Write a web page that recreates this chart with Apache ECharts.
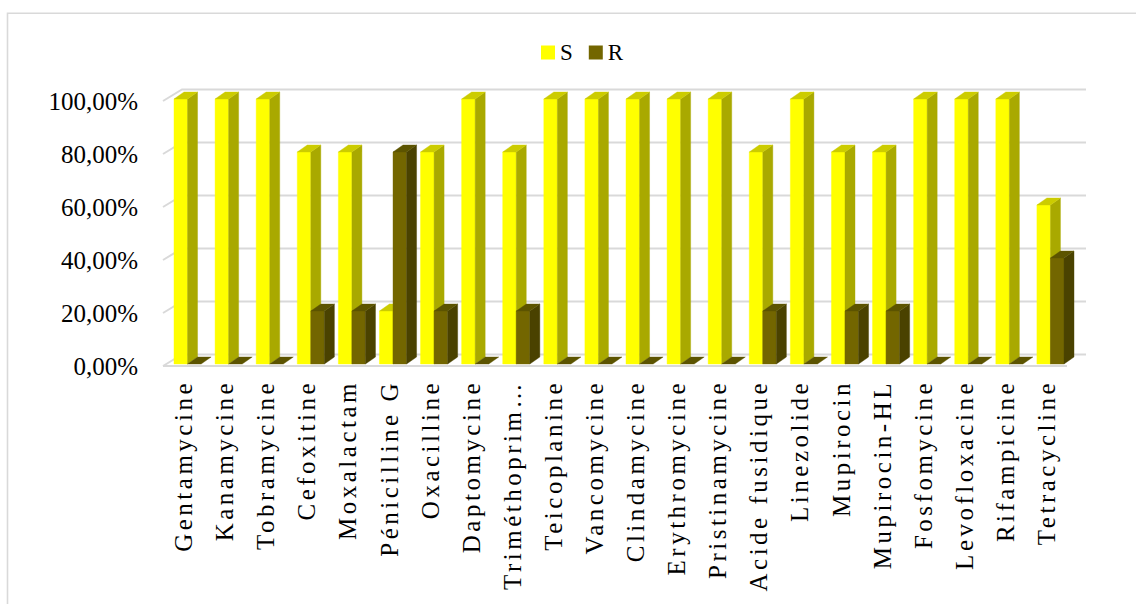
<!DOCTYPE html>
<html>
<head>
<meta charset="utf-8">
<script src="https://cdn.jsdelivr.net/npm/echarts@6/dist/echarts.min.js"></script>
<style>
  html, body { margin: 0; padding: 0; background: #ffffff; }
  #chart { width: 1136px; height: 604px; }
</style>
</head>
<body>
<div id="chart"></div>
<script>
// Antibiotic susceptibility profile (share of isolates S / R)
const categories = [
  'Gentamycine', 'Kanamycine', 'Tobramycine', 'Cefoxitine', 'Moxalactam',
  'Pénicilline G', 'Oxacilline', 'Daptomycine', 'Triméthoprim…', 'Teicoplanine',
  'Vancomycine', 'Clindamycine', 'Erythromycine', 'Pristinamycine', 'Acide fusidique',
  'Linezolide', 'Mupirocin', 'Mupirocin-HL', 'Fosfomycine', 'Levofloxacine',
  'Rifampicine', 'Tetracycline'
];
const susceptible = [100, 100, 100, 80, 80, 20, 80, 100, 80, 100, 100, 100, 100, 100, 80, 100, 80, 80, 100, 100, 100, 60];
const resistant   = [0, 0, 0, 20, 20, 80, 20, 0, 20, 0, 0, 0, 0, 0, 20, 0, 20, 20, 0, 0, 0, 40];
const yTicks = [0, 20, 40, 60, 80, 100];
const yTickLabels = ['0,00%', '20,00%', '40,00%', '60,00%', '80,00%', '100,00%'];

const FONT = '"Liberation Serif", "Times New Roman", serif';

// 3D look: back wall offset and column depth, in pixels
const WALL_DX = 19, WALL_DY = -11.5;
const COL_DX = 10, COL_DY = -7;
const COL_SHIFT_X = 4, COL_SHIFT_Y = -2;
const COL_FRAC = 0.33;

const palette = {
  S: { front: '#FFFF00', side: '#A9A900', top: '#CCCC00' },
  R: { front: '#736600', side: '#4A4200', top: '#5C5400' }
};

function poly(points, color) {
  return {
    type: 'polygon',
    shape: { points: points },
    style: { fill: color, stroke: color, lineWidth: 0.4 }
  };
}

function column3d(slot, colors) {
  return function (params, api) {
    const i = api.value(0);
    const v = api.value(1);
    const band = api.size([1, 0])[0];
    const w = band * COL_FRAC;
    const base = api.coord([i, 0]);
    const top = api.coord([i, v]);
    const cx = base[0] + COL_SHIFT_X;
    const x0 = slot === 0 ? cx - w : cx;
    const x1 = x0 + w;
    const yb = base[1] + COL_SHIFT_Y;
    const yt = top[1] + COL_SHIFT_Y;
    const children = [];
    if (yb - yt > 0.5) {
      children.push(poly([[x0, yt], [x1, yt], [x1, yb], [x0, yb]], colors.front));
      children.push(poly([[x1, yt], [x1 + COL_DX, yt + COL_DY], [x1 + COL_DX, yb + COL_DY], [x1, yb]], colors.side));
    }
    children.push(poly([[x0, yt], [x1, yt], [x1 + COL_DX, yt + COL_DY], [x0 + COL_DX, yt + COL_DY]], colors.top));
    return { type: 'group', children: children };
  };
}

function wallLines(params, api) {
  const cs = params.coordSys;
  const v = api.value(1);
  const y = api.coord([0, v])[1];
  const style = { stroke: '#D9D9D9', lineWidth: 2, fill: null };
  const children = [{
    type: 'polyline',
    shape: { points: [[cs.x, y], [cs.x + WALL_DX, y + WALL_DY], [cs.x + cs.width + WALL_DX, y + WALL_DY]] },
    style: style
  }];
  if (v === 0) {
    children.push({
      type: 'line',
      shape: { x1: cs.x, y1: y, x2: cs.x + cs.width, y2: y },
      style: style
    });
  }
  return { type: 'group', children: children };
}

const chart = echarts.init(document.getElementById('chart'), null, { renderer: 'svg' });

chart.setOption({
  animation: false,
  backgroundColor: '#ffffff',
  graphic: [{
    type: 'rect',
    shape: { x: 7.5, y: 13.3, width: 1140, height: 610 },
    style: { fill: null, stroke: '#D9D9D9', lineWidth: 1.6 },
    silent: true,
    z: -10
  }],
  legend: {
    data: ['S', 'R'],
    left: 541,
    top: 41,
    padding: 0,
    itemWidth: 14,
    itemHeight: 14,
    itemGap: 16,
    icon: 'rect',
    textStyle: { fontFamily: FONT, fontSize: 23, color: '#000000' }
  },
  grid: { left: 163, right: 69, top: 101, bottom: 238, containLabel: false },
  xAxis: {
    type: 'category',
    data: categories,
    axisLine: { show: false },
    axisTick: { show: false },
    splitLine: { show: false },
    axisLabel: {
      interval: 0,
      rotate: 90,
      margin: 14,
      fontFamily: FONT,
      fontSize: 25,
      color: '#000000'
    }
  },
  yAxis: {
    type: 'value',
    min: 0,
    max: 100,
    interval: 20,
    axisLine: { show: false },
    axisTick: { show: false },
    splitLine: { show: false },
    axisLabel: {
      margin: 25,
      fontFamily: FONT,
      fontSize: 25,
      color: '#000000',
      formatter: function (val) {
        const k = yTicks.indexOf(val);
        return k >= 0 ? yTickLabels[k] : '';
      }
    }
  },
  series: [
    {
      name: 'wall',
      type: 'custom',
      silent: true,
      z: 1,
      renderItem: wallLines,
      data: yTicks.map(function (t) { return [0, t]; })
    },
    {
      name: 'S',
      type: 'custom',
      z: 2,
      itemStyle: { color: palette.S.front },
      renderItem: column3d(0, palette.S),
      data: susceptible.map(function (v, i) { return [i, v]; })
    },
    {
      name: 'R',
      type: 'custom',
      z: 3,
      itemStyle: { color: palette.R.front },
      renderItem: column3d(1, palette.R),
      data: resistant.map(function (v, i) { return [i, v]; })
    }
  ]
});

// Spread the letters of the rotated category names
function spaceCategoryLabels() {
  document.querySelectorAll('#chart text').forEach(function (t) {
    if (categories.indexOf(t.textContent) >= 0) {
      t.style.letterSpacing = '3.5px';
    }
  });
}
chart.on('finished', spaceCategoryLabels);
spaceCategoryLabels();
</script>
</body>
</html>
